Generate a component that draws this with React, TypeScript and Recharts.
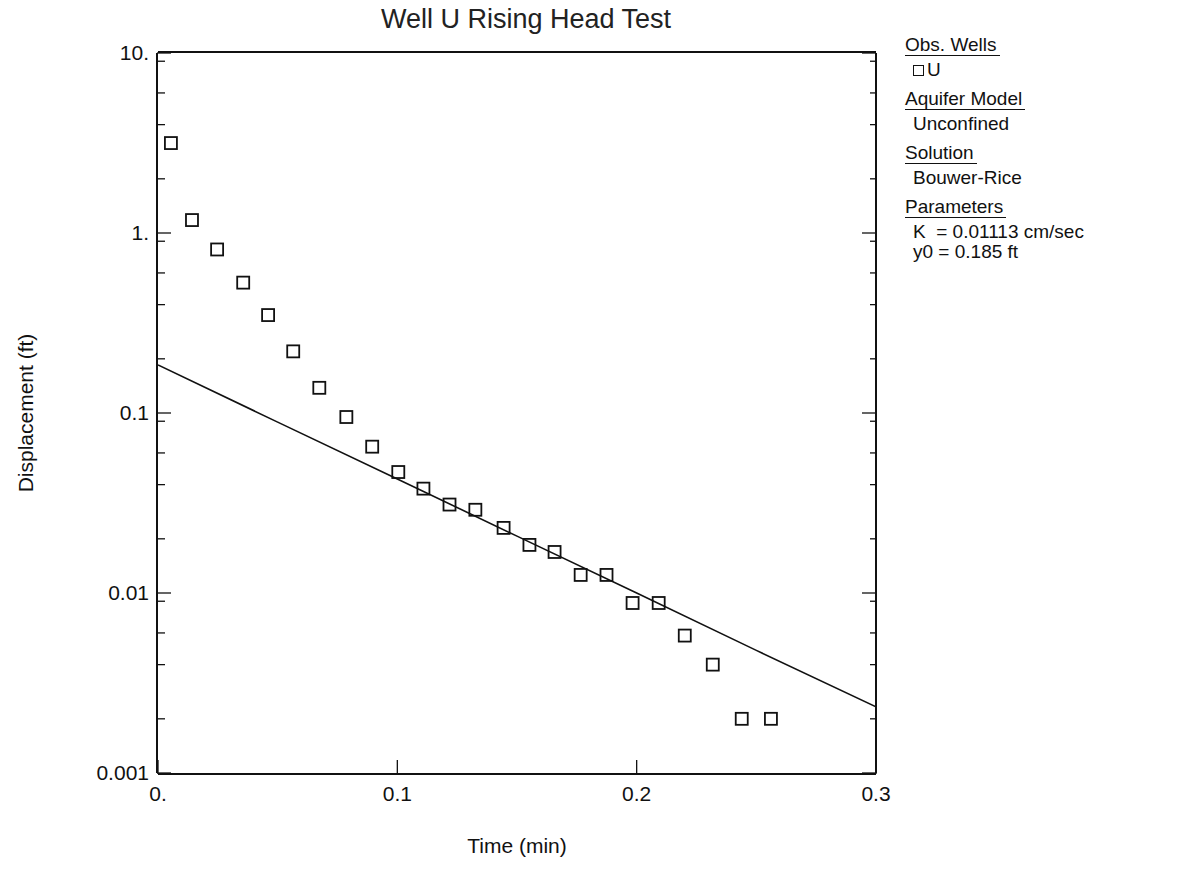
import React from 'react';
import { ComposedChart, XAxis, YAxis, Line, Scatter } from 'recharts';

// observed displacement, well U
const obsTime = [
  0.0054, 0.0142, 0.0247, 0.0356, 0.046, 0.0565, 0.0674, 0.0787, 0.0895, 0.1004,
  0.1109, 0.1218, 0.1326, 0.1444, 0.1552, 0.1657, 0.1766, 0.1874, 0.1983, 0.2092,
  0.2201, 0.2318, 0.2439, 0.2561,
];
const obsDisp = [
  3.16, 1.18, 0.81, 0.53, 0.35, 0.22, 0.138, 0.095, 0.065, 0.047,
  0.038, 0.031, 0.029, 0.023, 0.0185, 0.0169, 0.0126, 0.0126, 0.0088, 0.0088,
  0.0058, 0.004, 0.002, 0.002,
];

// Bouwer-Rice fitted line
const fitTime = [0, 0.05, 0.1, 0.15, 0.2, 0.25, 0.3];
const fitDisp = [0.185, 0.089, 0.043, 0.0207, 0.01, 0.0048, 0.00233];

const xTicks = [0, 0.1, 0.2, 0.3];
const xTickLabels = ['0.', '0.1', '0.2', '0.3'];
const xMinorTicks = [0.02, 0.04, 0.06, 0.08, 0.12, 0.14, 0.16, 0.18, 0.22, 0.24, 0.26, 0.28];
const yTicks = [0.001, 0.01, 0.1, 1, 10];
const yTickLabels = ['0.001', '0.01', '0.1', '1.', '10.'];
const yDecades = [0.001, 0.01, 0.1, 1];
const yMultipliers = [2, 3, 4, 5, 6, 7, 8, 9];
const yMinorTicks = yDecades.flatMap((d) => yMultipliers.map((m) => +(d * m).toPrecision(2)));

const title = 'Well U Rising Head Test';
const xTitle = 'Time (min)';
const yTitle = 'Displacement (ft)';

const legendSections = [
  { head: 'Obs. Wells', lines: ['U'], marker: true },
  { head: 'Aquifer Model', lines: ['Unconfined'], marker: false },
  { head: 'Solution', lines: ['Bouwer-Rice'], marker: false },
  { head: 'Parameters', lines: ['K  = 0.01113 cm/sec', 'y0 = 0.185 ft'], marker: false },
];

const obsData = obsTime.map((t, i) => ({ t, d: obsDisp[i] }));
const fitData = fitTime.map((t, i) => ({ t, d: fitDisp[i] }));

const FONT = '"Liberation Sans", Arial, sans-serif';
const INK = '#111';

const Square = (props: any) => {
  const { cx, cy } = props;
  if (cx == null || cy == null) return null;
  return <rect x={cx - 6} y={cy - 6} width={12} height={12} fill="none" stroke={INK} strokeWidth={1.8} />;
};

const blankTick = () => <g />;

const YTitle = (props: any) => {
  const vb = props.viewBox || {};
  const cx = 17;
  const cy = (vb.y || 0) + (vb.height || 0) / 2;
  return (
    <text x={cx} y={cy} transform={`rotate(-90 ${cx} ${cy})`} textAnchor="middle" dominantBaseline="central"
      fontFamily={FONT} fontSize={21} fill={INK}>
      {yTitle}
    </text>
  );
};

const XTitle = (props: any) => {
  const vb = props.viewBox || {};
  const cx = (vb.x || 0) + (vb.width || 0) / 2;
  const cy = 837;
  return (
    <text x={cx} y={cy} textAnchor="middle" dominantBaseline="central" fontFamily={FONT} fontSize={21} fill={INK}>
      {xTitle}
    </text>
  );
};

const tickStyle = { fontFamily: FONT, fontSize: 21, fill: INK };
const frame = { stroke: INK, strokeWidth: 2 };
const tickLn = { stroke: INK, strokeWidth: 1.3 };

export default function App() {
  return (
    <div style={{ position: 'relative', width: 1180, height: 860, background: '#fff' }}>
      <ComposedChart width={1180} height={860} margin={{ top: 43, right: 310, bottom: 93, left: 148 }}>
        <XAxis xAxisId="main" dataKey="t" type="number" domain={[0, 0.3]} allowDataOverflow ticks={xTicks}
          tickFormatter={(v: number) => xTickLabels[xTicks.indexOf(v)] ?? ''} height={1}
          tickSize={-14} tickMargin={26} axisLine={frame} tickLine={tickLn} tick={tickStyle}
          label={<XTitle />} />
        <XAxis xAxisId="bminor" type="number" domain={[0, 0.3]} allowDataOverflow ticks={xMinorTicks}
          height={1} tickSize={-7} axisLine={false} tickLine={tickLn} tick={blankTick} />
        <XAxis xAxisId="top" orientation="top" type="number" domain={[0, 0.3]} allowDataOverflow ticks={xTicks}
          height={1} tickSize={-14} axisLine={frame} tickLine={tickLn} tick={blankTick} />
        <XAxis xAxisId="tminor" orientation="top" type="number" domain={[0, 0.3]} allowDataOverflow ticks={xMinorTicks}
          height={1} tickSize={-7} axisLine={false} tickLine={tickLn} tick={blankTick} />

        <YAxis yAxisId="main" dataKey="d" type="number" scale="log" domain={[0.001, 10]} allowDataOverflow
          ticks={yTicks} tickFormatter={(v: number) => yTickLabels[yTicks.indexOf(v)] ?? ''} width={1}
          tickSize={-14} tickMargin={22} axisLine={frame} tickLine={tickLn} tick={tickStyle}
          label={<YTitle />} />
        <YAxis yAxisId="lminor" type="number" scale="log" domain={[0.001, 10]} allowDataOverflow
          ticks={yMinorTicks} width={1} tickSize={-7} axisLine={false} tickLine={tickLn} tick={blankTick} />
        <YAxis yAxisId="right" orientation="right" type="number" scale="log" domain={[0.001, 10]} allowDataOverflow
          ticks={yTicks} width={1} tickSize={-14} axisLine={frame} tickLine={tickLn} tick={blankTick} />
        <YAxis yAxisId="rminor" orientation="right" type="number" scale="log" domain={[0.001, 10]} allowDataOverflow
          ticks={yMinorTicks} width={1} tickSize={-7} axisLine={false} tickLine={tickLn} tick={blankTick} />

        <Line xAxisId="main" yAxisId="main" data={fitData} dataKey="d" type="linear" stroke={INK} strokeWidth={1.6}
          dot={false} activeDot={false} isAnimationActive={false} />
        <Scatter xAxisId="main" yAxisId="main" data={obsData} dataKey="d" shape={<Square />} isAnimationActive={false} />
      </ComposedChart>

      <div style={{ position: 'absolute', zIndex: 2, left: 0, width: 1036, top: -5, lineHeight: '32px', textAlign: 'center', fontFamily: FONT, fontSize: 27, color: '#222' }}>
        {title}
      </div>

      <div style={{ position: 'absolute', zIndex: 2, left: 897, top: 27, fontFamily: FONT, fontSize: 19, color: INK, lineHeight: '20px' }}>
        {legendSections.map((s) => (
          <div key={s.head} style={{ marginBottom: 9 }}>
            <div style={{ display: 'inline-block', borderBottom: `1.5px solid ${INK}`, paddingRight: 3 }}>{s.head}</div>
            {s.lines.map((l, i) => (
              <div key={l} style={{ paddingLeft: 8, whiteSpace: 'pre', marginTop: i === 0 ? 4 : 0 }}>
                {s.marker && (
                  <span style={{ display: 'inline-block', width: 9, height: 9, border: `1.3px solid ${INK}`, marginRight: 3, verticalAlign: 'middle' }} />
                )}
                {l}
              </div>
            ))}
          </div>
        ))}
      </div>
    </div>
  );
}
